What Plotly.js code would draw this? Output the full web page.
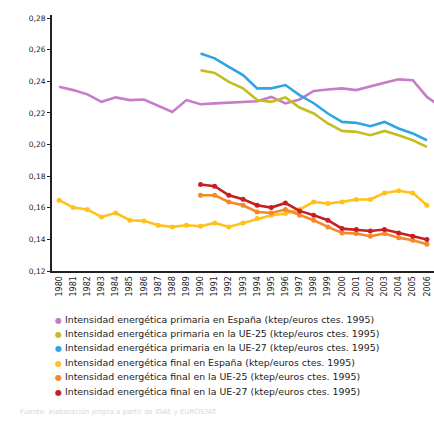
<!DOCTYPE html>
<html>
<head>
<meta charset="utf-8">
<script src="https://cdn.plot.ly/plotly-3.0.1.min.js"></script>
<style>html,body{margin:0;padding:0;background:#fff;}#chart{width:434px;height:421px;}</style>
</head>
<body>
<div id="chart"></div>
<script>
// Categories
const yearsES = [1980,1981,1982,1983,1984,1985,1986,1987,1988,1989,1990,1991,1992,1993,1994,1995,1996,1997,1998,1999,2000,2001,2002,2003,2004,2005,2006,2007];
const yearsFinalES = [1980,1981,1982,1983,1984,1985,1986,1987,1988,1989,1990,1991,1992,1993,1994,1995,1996,1997,1998,1999,2000,2001,2002,2003,2004,2005,2006];
const yearsEU = [1990,1991,1992,1993,1994,1995,1996,1997,1998,1999,2000,2001,2002,2003,2004,2005,2006];
const tickYears = [1980,1981,1982,1983,1984,1985,1986,1987,1988,1989,1990,1991,1992,1993,1994,1995,1996,1997,1998,1999,2000,2001,2002,2003,2004,2005,2006];

// Series values
const primES = [0.2365,0.2344,0.2317,0.2270,0.2298,0.2281,0.2285,0.2243,0.2206,0.2281,0.2255,0.2260,0.2266,0.2270,0.2274,0.2301,0.2260,0.2285,0.2339,0.2348,0.2355,0.2344,0.2365,0.2390,0.2412,0.2407,0.2301,0.2238];
const primEU25 = [0.2470,0.2453,0.2396,0.2355,0.2281,0.2270,0.2298,0.2234,0.2196,0.2133,0.2086,0.2080,0.2059,0.2086,0.2059,0.2027,0.1985];
const primEU27 = [0.2576,0.2545,0.2491,0.2439,0.2355,0.2355,0.2376,0.2312,0.2261,0.2196,0.2143,0.2137,0.2116,0.2143,0.2101,0.2070,0.2027];
const finES = [0.1648,0.1601,0.1589,0.1542,0.1567,0.1521,0.1517,0.1489,0.1479,0.1489,0.1483,0.1504,0.1479,0.1504,0.1532,0.1553,0.1563,0.1589,0.1637,0.1627,0.1637,0.1652,0.1652,0.1694,0.1707,0.1694,0.1616];
const finEU25 = [0.1679,0.1679,0.1637,0.1616,0.1573,0.1567,0.1589,0.1553,0.1521,0.1479,0.1441,0.1437,0.1420,0.1437,0.1411,0.1394,0.1369];
const finEU27 = [0.1747,0.1736,0.1679,0.1654,0.1616,0.1601,0.1630,0.1580,0.1553,0.1521,0.1468,0.1462,0.1453,0.1462,0.1441,0.1420,0.1399];

const names = [
  'Intensidad energética primaria en España (ktep/euros ctes. 1995)',
  'Intensidad energética primaria en la UE-25 (ktep/euros ctes. 1995)',
  'Intensidad energética primaria en la UE-27 (ktep/euros ctes. 1995)',
  'Intensidad energética final en España (ktep/euros ctes. 1995)',
  'Intensidad energética final en la UE-25 (ktep/euros ctes. 1995)',
  'Intensidad energética final en la UE-27 (ktep/euros ctes. 1995)'
];
const colors = ['#c77cc9','#c3bd1f','#2ea6e2','#ffc21a','#f5892a','#c81e22'];

const xs = [yearsES, yearsEU, yearsEU, yearsFinalES, yearsEU, yearsEU];
const ys = [primES, primEU25, primEU27, finES, finEU25, finEU27];
const withMarkers = [false,false,false,true,true,true];

const traces = ys.map((y,i)=>({
  x: xs[i], y: y, name: names[i], type:'scatter',
  mode: withMarkers[i] ? 'lines+markers' : 'lines',
  line:{color:colors[i], width:2.6},
  marker:{color:colors[i], size:5},
  showlegend:false
}));

const legendTop = -0.1875, legendStep = 0.0566;
const annotations = names.map((n,i)=>({
  xref:'paper', yref:'paper', x:0.003, y: legendTop - i*legendStep,
  xanchor:'left', yanchor:'middle', showarrow:false, align:'left',
  text:'<span style="color:'+colors[i]+';font-size:8px">●</span> '+n,
  font:{family:'DejaVu Sans, Verdana, sans-serif', size:9.4, color:'#222'}
}));
annotations.push({
  xref:'paper', yref:'paper', x:-0.09, y:-0.552, xanchor:'left', yanchor:'middle', showarrow:false,
  text:'Fuente: elaboración propia a partir de IDAE y EUROSTAT',
  font:{family:'DejaVu Sans, Verdana, sans-serif', size:7, color:'#d8d8d8'}
});

const layout = {
  width:434, height:421,
  margin:{l:52, r:0, t:15, b:150},
  paper_bgcolor:'#fff', plot_bgcolor:'#fff',
  separators:', ',
  showlegend:false,
  xaxis:{
    range:[1979.5, 2006.5], tickmode:'array', tickvals:tickYears, ticktext:tickYears.map(String),
    tickangle:-90, tickfont:{family:'DejaVu Sans, Verdana, sans-serif', size:8, color:'#222'},
    showline:true, linewidth:2, linecolor:'#222', showgrid:false, zeroline:false, ticks:''
  },
  yaxis:{
    range:[0.12, 0.2819], tickmode:'array', tickvals:[0.12,0.14,0.16,0.18,0.20,0.22,0.24,0.26,0.28],
    tickformat:'.2f', ticks:'outside', ticklen:3, tickcolor:'#222',
    tickfont:{family:'DejaVu Sans, Verdana, sans-serif', size:7.5, color:'#222'},
    showline:true, linewidth:2, linecolor:'#222', showgrid:false, zeroline:false
  },
  annotations: annotations
};

Plotly.newPlot('chart', traces, layout, {displayModeBar:false, staticPlot:true});
</script>
</body>
</html>
